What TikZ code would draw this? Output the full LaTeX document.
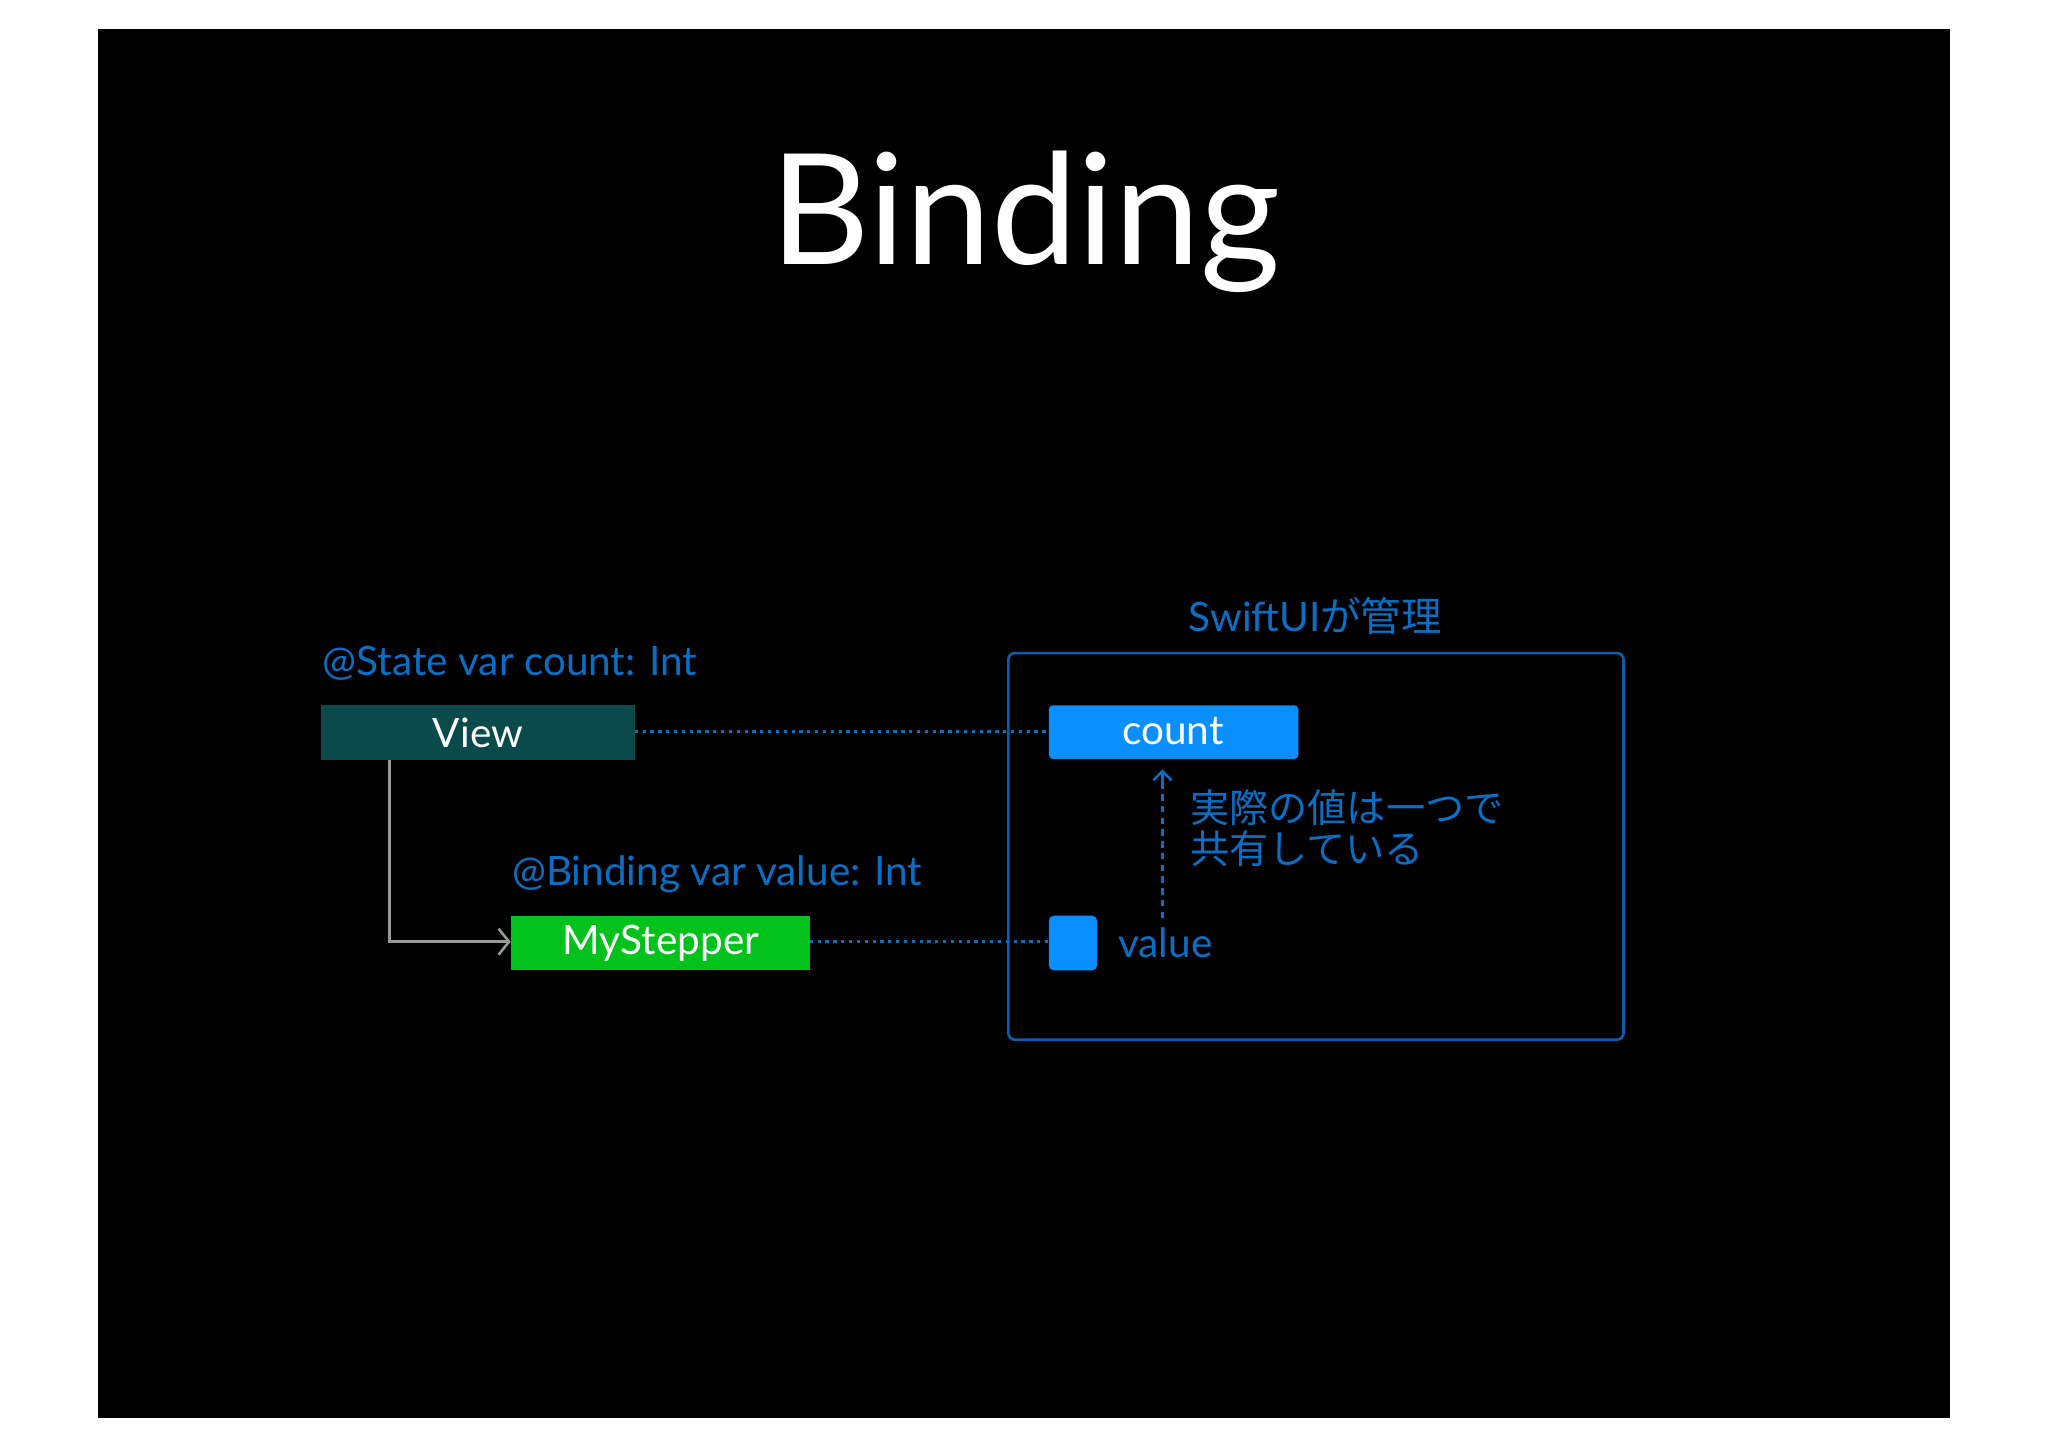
\documentclass[tikz,border=0pt]{standalone}
\usepackage{fontspec}
\setmainfont{Lato}
\newfontfamily\cjk{Noto Sans CJK JP}
\usetikzlibrary{arrows.meta}
\definecolor{lblue}{HTML}{0A6FC4}
\definecolor{bblue}{HTML}{0A8FFF}
\definecolor{frame}{HTML}{0A5FA8}
\definecolor{teal}{HTML}{0B4A4A}
\definecolor{sgreen}{HTML}{00C21A}
\begin{document}
\begin{tikzpicture}[x=1pt,y=-1pt,
  lbl/.style={text=lblue,font=\fontsize{31}{36}\selectfont,inner sep=0pt},
  boxtxt/.style={text=white,font=\fontsize{31}{36}\selectfont,inner sep=0pt,anchor=center},
  dotline/.style={lblue,line width=2.2pt,dash pattern=on 2.5pt off 3.5pt}]
\useasboundingbox (0,0) rectangle (1568,1108);
\fill[white] (0,0) rectangle (1568,1108);
\fill[black] (75,22) rectangle (1493,1086);
\node (title) at (785,170) {\color{white}\fontsize{118}{130}\selectfont Binding};
% frame
\draw[frame,line width=2pt,rounded corners=5pt] (772,500) rectangle (1243,796);
\node[lbl] (swift) at (1007,472) {SwiftUI{\cjk が管理}};
% view
\fill[teal] (246,540) rectangle (486,582);
\node[boxtxt] (view) at (366,561) {View};
\coordinate (viewR) at (486,560);
\node[lbl,anchor=base west] (state) at (247,517) {@State var count: Int};
% count
\fill[bblue,rounded corners=3pt] (803,540) rectangle (994,581);
\node[boxtxt] (count) at (898,560) {count};
\coordinate (countL) at (803,560);
\draw[dotline] (viewR) -- (countL);
% mystepper
\fill[sgreen] (391,701) rectangle (620,743);
\node[boxtxt] (step) at (506,722) {MyStepper};
\node[lbl,anchor=base west] (bind) at (392,678) {@Binding var value: Int};
\coordinate (stepR) at (620,721);
\coordinate (stepL) at (391,721);
% value
\fill[bblue,rounded corners=4pt] (803,701) rectangle (840,743);
\coordinate (valL) at (803,721);
\node[lbl,anchor=west] (value) at (856,722) {value};
\draw[dotline] (stepR) -- (valL);
% vertical arrow
\coordinate (vbot) at (890,703);
\coordinate (vtop) at (890,589);
\draw[lblue,line width=2pt,dash pattern=on 5pt off 4pt] (vbot) -- (890,596);
\draw[lblue,line width=2pt,-{Straight Barb[length=7pt,width=14pt]}] (890,600) -- (vtop);
\node[text=lblue,font=\cjk\fontsize{30}{34}\selectfont,anchor=north west,inner sep=0pt,align=left] (note) at (911,604) {実際の値は一つで\\[-2pt]共有している};
% gray connector
\coordinate (vb) at (298,582);
\draw[gray!80,line width=2pt,-{Straight Barb[length=8pt,width=20pt]}] (vb) |- (stepL);
\end{tikzpicture}
\end{document}
